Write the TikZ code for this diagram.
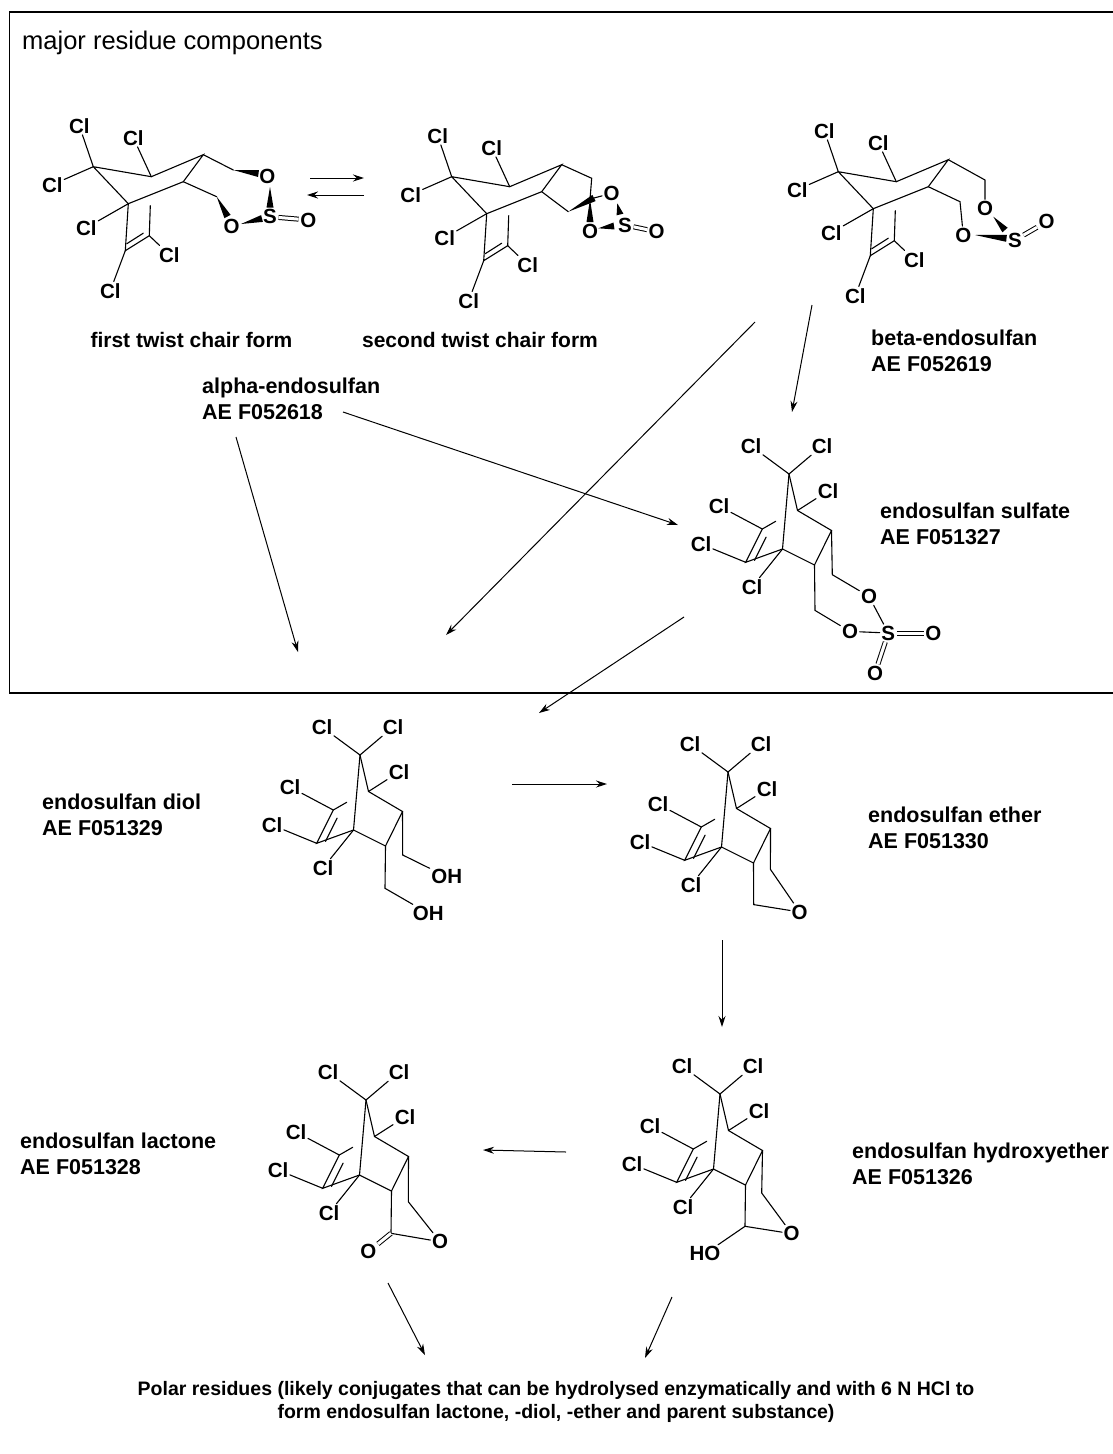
\documentclass[tikz,border=0pt]{standalone}
\usepackage{fontspec}
\setmainfont{Liberation Sans}
\usetikzlibrary{calc,arrows.meta}

\tikzset{
  bond/.style={line width=1.1pt, line cap=round},
  dbl/.style={double, double distance=3pt, line width=1pt},
  atom/.style={font=\fontsize{20.5}{22}\selectfont\bfseries, inner sep=1.5pt},
  lbl/.style={font=\fontsize{21.5}{26}\selectfont\bfseries, align=left, anchor=west, inner sep=0pt},
  captext/.style={font=\fontsize{21}{26}\selectfont\bfseries, inner sep=0pt},
  rxn/.style={line width=1pt, -{Stealth[length=11pt,width=7pt]}},
  frame/.style={line width=1.5pt},
}

% filled wedge: narrow at #1, wide at #2
\newcommand{\wdg}[2]{\fill ($(#1)$) -- ($(#2)!3.5pt!90:(#1)$) -- ($(#2)!3.5pt!-90:(#1)$) -- cycle;}

% norbornene core of the lower structures
\newcommand{\lowcore}[3]{%
\begin{scope}[shift={(#2,#3)}]
  \coordinate (#1c7) at (0,0);
  \coordinate (#1c1) at (8.5,36.5);
  \coordinate (#1c4) at (-6.5,75);
  \coordinate (#1c6) at (42.5,56.5);
  \coordinate (#1c5) at (25.5,91);
  \coordinate (#1c2) at (-26.7,55);
  \coordinate (#1c3) at (-43.3,88.3);
  \coordinate (#1c2p) at (-13.3,47.3);
  \coordinate (#1d1) at (-34.5,86.4);
  \coordinate (#1d2) at (-22.9,63.1);
  \node[atom] (#1cla) at (-38,-28) {Cl};
  \node[atom] (#1clb) at (33,-28) {Cl};
  \node[atom] (#1clc) at (39,17) {Cl};
  \node[atom] (#1cld) at (-37,113) {Cl};
  \node[atom] (#1cle) at (-70,32) {Cl};
  \node[atom] (#1clf) at (-88,70) {Cl};
  \draw[bond] (#1c7) -- (#1c1) -- (#1c6) -- (#1c5) -- (#1c4) -- (#1c3) -- (#1c2) -- (#1c2p);
  \draw[bond] (#1c7) -- (#1c4);
  \draw[bond] (#1d1) -- (#1d2);
  \draw[bond] (#1c7) -- (#1cla);
  \draw[bond] (#1c7) -- (#1clb);
  \draw[bond] (#1c1) -- (#1clc);
  \draw[bond] (#1c4) -- (#1cld);
  \draw[bond] (#1c2) -- (#1cle);
  \draw[bond] (#1c3) -- (#1clf);
\end{scope}}

% bicyclic core of the upper structures
\newcommand{\topcore}[3]{%
\begin{scope}[shift={(#2,#3)}]
  \coordinate (#1c7) at (0,0);
  \coordinate (#1c1) at (58,10);
  \coordinate (#1c4) at (35,37);
  \coordinate (#1c6) at (110,-12);
  \coordinate (#1c5) at (90,15);
  \coordinate (#1c3) at (32,84);
  \coordinate (#1c2) at (56,69);
  \coordinate (#1c2p) at (57,39);
  \coordinate (#1d1) at (33.5,77);
  \coordinate (#1d2) at (50,66.5);
  \node[atom] (#1cla) at (-14,-41) {Cl};
  \node[atom] (#1clb) at (-41,18) {Cl};
  \node[atom] (#1clc) at (40,-29) {Cl};
  \node[atom] (#1cld) at (-7,61) {Cl};
  \node[atom] (#1cle) at (76,88) {Cl};
  \node[atom] (#1clf) at (17,124) {Cl};
  \draw[bond] (#1c7) -- (#1c1) -- (#1c6) -- (#1c5) -- (#1c4) -- (#1c7);
  \draw[bond] (#1c4) -- (#1c3) -- (#1c2) -- (#1c2p);
  \draw[bond] (#1d1) -- (#1d2);
  \draw[bond] (#1c7) -- (#1cla);
  \draw[bond] (#1c7) -- (#1clb);
  \draw[bond] (#1c1) -- (#1clc);
  \draw[bond] (#1c4) -- (#1cld);
  \draw[bond] (#1c2) -- (#1cle);
  \draw[bond] (#1c3) -- (#1clf);
\end{scope}}

\begin{document}
\begin{tikzpicture}[x=1pt,y=-1pt]
\useasboundingbox (0,0) rectangle (1113,1454);
\fill[white] (0,0) rectangle (1113,1454);

% frame
\draw[frame] (1116,12) -- (9.5,12) -- (9.5,693) -- (1116,693);
\node[font=\fontsize{25.5}{28}\selectfont, anchor=west, inner sep=0pt] (title) at (22,43) {major residue components};

% ---------- first twist chair form ----------
\topcore{a}{93.3}{166.7}
\coordinate (aa1) at (233.3,170);
\coordinate (aa2) at (216.7,196.7);
\node[atom] (ao1) at (267.3,176.7) {O};
\node[atom] (ao2) at (231.7,226.7) {O};
\node[atom] (as) at (270,216.7) {S};
\node[atom] (ao3) at (308.3,220) {O};
\coordinate (aw1) at (258.5,173.5);
\coordinate (aw2) at (227.5,216.5);
\coordinate (aw3a) at (270,187);
\coordinate (aw3b) at (270,207.5);
\coordinate (aw4a) at (241,224);
\coordinate (aw4b) at (262,218.5);
\draw[bond] (ac6) -- (aa1);
\draw[bond] (ac5) -- (aa2);
\wdg{aa1}{aw1}
\wdg{aa2}{aw2}
\wdg{aw3a}{aw3b}
\wdg{aw4a}{aw4b}
\draw[dbl] (as) -- (ao3);

% equilibrium arrows
\coordinate (eq1a) at (310,178);
\coordinate (eq1b) at (364,178);
\coordinate (eq2a) at (364,195);
\coordinate (eq2b) at (307,195);
\draw[rxn] (eq1a) -- (eq1b);
\draw[rxn] (eq2a) -- (eq2b);

% ---------- second twist chair form ----------
\topcore{b}{451.7}{176.7}
\coordinate (ba1) at (591.7,178.3);
\coordinate (bsp) at (590,199.3);
\coordinate (ba2) at (568.3,211.7);
\coordinate (bx) at (594,198);
\node[atom] (bo1) at (611.7,193.3) {O};
\node[atom] (bo2) at (590,231.7) {O};
\node[atom] (bs) at (625,225) {S};
\node[atom] (bo3) at (656.7,231.7) {O};
\coordinate (bw1) at (590,222);
\coordinate (bw3a) at (617.3,203.3);
\coordinate (bw3b) at (620,214.5);
\coordinate (bw4a) at (598.3,228.3);
\coordinate (bw4b) at (614,226);
\draw[bond] (bc6) -- (ba1) -- (bsp);
\draw[bond] (bc5) -- (ba2);
\wdg{bsp}{bw1}
\wdg{ba2}{bx}
\draw[bond] (bx) -- (bo1);
\wdg{bw3a}{bw3b}
\wdg{bw4a}{bw4b}
\draw[dbl] (bs) -- (bo3);

% ---------- beta-endosulfan ----------
\topcore{c}{838.3}{171.7}
\coordinate (ca1) at (985,180);
\coordinate (ca2) at (960,201.7);
\node[atom] (co1) at (985,208.3) {O};
\node[atom] (co2) at (963.3,235) {O};
\node[atom] (cs) at (1015,240) {S};
\node[atom] (co3) at (1046.7,221.7) {O};
\coordinate (cw1a) at (975,235);
\coordinate (cw1b) at (1006.5,238.3);
\coordinate (cw2a) at (993.3,216.7);
\coordinate (cw2b) at (1005,230);
\draw[bond] (cc6) -- (ca1) -- (co1);
\draw[bond] (cc5) -- (ca2) -- (co2);
\wdg{cw1a}{cw1b}
\wdg{cw2a}{cw2b}
\draw[dbl] (cs) -- (co3);

% captions upper part
\node[captext] (t1) at (191.5,340) {first twist chair form};
\node[captext] (t2) at (480,340) {second twist chair form};
\node[lbl] (lbeta) at (871,351) {beta-endosulfan\\AE F052619};
\node[lbl] (lalpha) at (202,398.5) {alpha-endosulfan\\AE F052618};
\node[lbl] (lsulf) at (880,524) {endosulfan sulfate\\AE F051327};

% ---------- endosulfan sulfate ----------
\lowcore{s}{789}{474}
\begin{scope}[shift={(789,474)}]
  \coordinate (sm1) at (43.3,100.7);
  \coordinate (sm2) at (26,136.4);
  \node[atom] (so1) at (80,122.4) {O};
  \node[atom] (so2) at (61,157.4) {O};
  \node[atom] (ss) at (99.3,159) {S};
  \node[atom] (so3) at (144.3,159) {O};
  \node[atom] (so4) at (86,199) {O};
  \draw[bond] (sc6) -- (sm1) -- (so1);
  \draw[bond] (sc5) -- (sm2) -- (so2);
  \draw[bond] (so1) -- (ss);
  \draw[bond] (so2) -- (ss);
  \draw[dbl] (ss) -- (so3);
  \draw[dbl] (ss) -- (so4);
\end{scope}

% ---------- endosulfan diol ----------
\lowcore{d}{360}{755}
\begin{scope}[shift={(360,755)}]
  \coordinate (dm1) at (42.7,100);
  \coordinate (dm2) at (25,133.3);
  \node[atom] (doh1) at (86.7,121.7) {OH};
  \node[atom] (doh2) at (68.3,158.3) {OH};
  \draw[bond] (dc6) -- (dm1) -- (doh1);
  \draw[bond] (dc5) -- (dm2) -- (doh2);
\end{scope}
\node[lbl] (ldiol) at (42,814.5) {endosulfan diol\\AE F051329};

% ---------- endosulfan ether ----------
\lowcore{e}{728}{772}
\begin{scope}[shift={(728,772)}]
  \coordinate (em1) at (42.4,97.3);
  \coordinate (em2) at (25.7,132.6);
  \node[atom] (eo) at (71.7,140) {O};
  \draw[bond] (ec6) -- (em1) -- (eo);
  \draw[bond] (ec5) -- (em2) -- (eo);
\end{scope}
\node[lbl] (lether) at (868,827.5) {endosulfan ether\\AE F051330};

% ---------- endosulfan lactone ----------
\lowcore{l}{366}{1100}
\begin{scope}[shift={(366,1100)}]
  \coordinate (lm1) at (42.3,101.7);
  \coordinate (lcc) at (25,133.3);
  \node[atom] (lo) at (74,141.7) {O};
  \node[atom] (lo2) at (2.3,151.7) {O};
  \draw[bond] (lc6) -- (lm1) -- (lo);
  \draw[bond] (lc5) -- (lcc) -- (lo);
  \draw[dbl] (lcc) -- (lo2);
\end{scope}
\node[lbl] (llact) at (20,1153.5) {endosulfan lactone\\AE F051328};

% ---------- endosulfan hydroxyether ----------
\lowcore{h}{720}{1094}
\begin{scope}[shift={(720,1094)}]
  \coordinate (hm1) at (41.7,99);
  \coordinate (hcc) at (25,132.3);
  \node[atom] (ho) at (71.7,139.7) {O};
  \node[atom] (hho) at (-15,159.7) {HO};
  \draw[bond] (hc6) -- (hm1) -- (ho);
  \draw[bond] (hc5) -- (hcc) -- (ho);
  \draw[bond] (hcc) -- (hho);
\end{scope}
\node[lbl] (lhyd) at (852,1164) {endosulfan hydroxyether\\AE F051326};

% ---------- reaction arrows ----------
\coordinate (r2a) at (812,305);  \coordinate (r2b) at (792,412);
\coordinate (r3a) at (755,322);  \coordinate (r3b) at (446,635);
\coordinate (r4a) at (343,412);  \coordinate (r4b) at (678,525);
\coordinate (r5a) at (236,437);  \coordinate (r5b) at (298,652);
\coordinate (r6a) at (684,617);  \coordinate (r6b) at (539,713);
\coordinate (r7a) at (512,784);  \coordinate (r7b) at (607,784);
\coordinate (r8a) at (722,940);  \coordinate (r8b) at (722,1027);
\coordinate (r9a) at (566,1152); \coordinate (r9b) at (483,1150);
\coordinate (r10a) at (388,1283); \coordinate (r10b) at (425,1355);
\coordinate (r11a) at (672,1297); \coordinate (r11b) at (645,1358);
\draw[rxn] (r2a) -- (r2b);
\draw[rxn] (r3a) -- (r3b);
\draw[rxn] (r4a) -- (r4b);
\draw[rxn] (r5a) -- (r5b);
\draw[rxn] (r6a) -- (r6b);
\draw[rxn] (r7a) -- (r7b);
\draw[rxn] (r8a) -- (r8b);
\draw[rxn] (r9a) -- (r9b);
\draw[rxn] (r10a) -- (r10b);
\draw[rxn] (r11a) -- (r11b);

% bottom text
\node[font=\fontsize{19.5}{23}\selectfont\bfseries, align=center, inner sep=0pt] (polar) at (556,1401.5)
  {Polar residues (likely conjugates that can be hydrolysed enzymatically and with 6 N HCl to\\form endosulfan lactone, -diol, -ether and parent substance)};
\end{tikzpicture}
\end{document}
